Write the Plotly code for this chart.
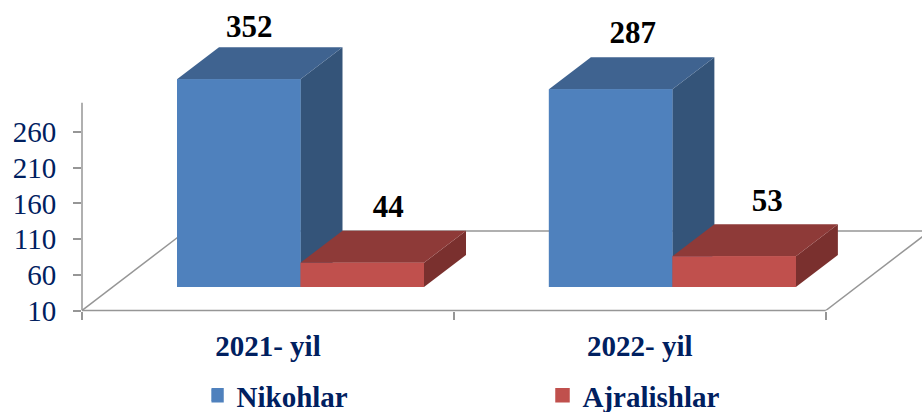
import plotly.graph_objects as go

# ---- data ----
categories = ["2021- yil", "2022- yil"]
series_names = ["Nikohlar", "Ajralishlar"]
nikohlar = [352, 287]
ajralishlar = [44, 53]
y_ticks = [10, 60, 110, 160, 210, 260]

# ---- axis / projection settings ----
AXIS_MIN, AXIS_MAX = 10, 301      # value axis; tall bars are clipped at its max
PX_PER_CAT = 371.9
PX_PER_VAL = 0.714
# body margin is removed below; the figure is a little taller than the window so
# the legend may sit right at the window's bottom edge, as in the reference
LEFT_PX, BOTTOM_PX, W, H = 82, 310.5, 922, 430

def ux(px):
    return px / PX_PER_CAT

def uy(px):
    return px / PX_PER_VAL

BAR_W = ux(123.5)
GROUP_START = ux(95)
DEPTH_X, DEPTH_Y = ux(42), uy(32)
FLOOR = AXIS_MIN + uy(23.5)
WALL_X, WALL_Y = ux(104), AXIS_MIN + uy(79.5)
GREY = "#969696"
NAVY = "#002060"
STYLE = {
    "Nikohlar": dict(front="#4F81BD", top="#3F6390", side="#345479"),
    "Ajralishlar": dict(front="#C0504D", top="#8E3A38", side="#7A302E"),
}
LABEL_DX = {"Nikohlar": [ux(10.5), ux(22)], "Ajralishlar": [ux(26), ux(33)]}
LABEL_DY = {"Nikohlar": [uy(18), uy(21.5)], "Ajralishlar": [uy(21.5), uy(21.5)]}
EDGE = 2.5  # outline of the bars (sets the legend swatch size), kept inside the face

fig = go.Figure()

series = [nikohlar, ajralishlar]
for s, (name, values) in enumerate(zip(series_names, series)):
    st = STYLE[name]
    xs = [c + GROUP_START + s * BAR_W for c in range(len(categories))]
    tops = [FLOOR + (min(v, AXIS_MAX) - AXIS_MIN) for v in values]
    # front faces as bars
    fig.add_trace(go.Bar(
        x=[x + BAR_W / 2 for x in xs], y=[t - FLOOR - uy(EDGE) for t in tops], base=FLOOR + uy(EDGE / 2),
        width=BAR_W - ux(EDGE), name=name,
        marker=dict(color=st["front"], line=dict(width=EDGE, color=st["front"])),
        hoverinfo="skip", showlegend=True,
    ))
    for x, t in zip(xs, tops):
        # side face
        fig.add_trace(go.Scatter(
            x=[x + BAR_W, x + BAR_W + DEPTH_X, x + BAR_W + DEPTH_X, x + BAR_W, x + BAR_W],
            y=[FLOOR, FLOOR + DEPTH_Y, t + DEPTH_Y, t, FLOOR],
            mode="lines", fill="toself", fillcolor=st["side"], line=dict(width=0),
            showlegend=False, hoverinfo="skip",
        ))
        # top face
        fig.add_trace(go.Scatter(
            x=[x, x + DEPTH_X, x + BAR_W + DEPTH_X, x + BAR_W, x],
            y=[t, t + DEPTH_Y, t + DEPTH_Y, t, t],
            mode="lines", fill="toself", fillcolor=st["top"], line=dict(width=0),
            showlegend=False, hoverinfo="skip",
        ))
        # front face again, above the neighbouring bar's side face
        fig.add_trace(go.Scatter(
            x=[x, x, x + BAR_W, x + BAR_W, x],
            y=[FLOOR, t, t, FLOOR, FLOOR],
            mode="lines", fill="toself", fillcolor=st["front"], line=dict(width=0),
            showlegend=False, hoverinfo="skip",
        ))

# data labels
for s, (name, values) in enumerate(zip(series_names, series)):
    fig.add_trace(go.Scatter(
        x=[c + GROUP_START + s * BAR_W + BAR_W / 2 + LABEL_DX[name][c] for c in range(len(categories))],
        y=[FLOOR + min(v, AXIS_MAX) - AXIS_MIN + DEPTH_Y + LABEL_DY[name][i] for i, v in enumerate(values)],
        mode="text", text=[str(v) for v in values], textposition="middle center",
        textfont=dict(family="Liberation Serif", size=31, color="#000000", weight="bold"),
        showlegend=False, hoverinfo="skip",
    ))

# floor, wall and axis lines
line = dict(color=GREY, width=1.5)
n = len(categories)
shapes = [
    dict(type="line", layer="below", xref="x", yref="y", x0=0, y0=AXIS_MIN, x1=WALL_X, y1=WALL_Y, line=line),
    dict(type="line", layer="below", xref="x", yref="y", x0=WALL_X, y0=WALL_Y, x1=n + WALL_X, y1=WALL_Y, line=line),
    dict(type="line", layer="below", xref="x", yref="y", x0=n, y0=AXIS_MIN, x1=n + WALL_X, y1=WALL_Y, line=line),
    dict(type="line", layer="below", xref="paper", yref="y", x0=LEFT_PX / W, y0=AXIS_MIN, x1=LEFT_PX / W, y1=AXIS_MAX, line=line),
    dict(type="line", layer="below", xref="x", yref="paper", x0=0, y0=1 - BOTTOM_PX / H, x1=n, y1=1 - BOTTOM_PX / H, line=line),
]

fig.update_layout(
    width=W, height=H, margin=dict(l=0, r=0, t=0, b=0, autoexpand=False),
    paper_bgcolor="white", plot_bgcolor="rgba(0,0,0,0)",
    barmode="overlay", shapes=shapes,
    xaxis=dict(
        domain=[LEFT_PX / W, 1], range=[0, (W - LEFT_PX) / PX_PER_CAT],
        tickmode="array", tickvals=[c + 0.5 for c in range(n)], ticktext=categories,
        ticks="", showgrid=False, zeroline=False, showline=False,
        tickfont=dict(family="Liberation Serif", size=29, color=NAVY, weight="bold"),
        ticklabelstandoff=15,
        minor=dict(tickmode="array", tickvals=list(range(n + 1)), ticks="outside", ticklen=8, tickwidth=1.5, tickcolor=GREY, showgrid=False),
    ),
    yaxis=dict(
        domain=[1 - BOTTOM_PX / H, 1], range=[AXIS_MIN, AXIS_MIN + uy(BOTTOM_PX)],
        tickmode="array", tickvals=y_ticks, ticktext=[str(v) for v in y_ticks],
        ticks="outside", ticklen=8, tickwidth=1.5, tickcolor=GREY,
        showgrid=False, zeroline=False, showline=False,
        tickfont=dict(family="Liberation Serif", size=29, color=NAVY),
        ticklabelstandoff=11,
    ),
    legend=dict(
        orientation="h", x=211.5 / W, xanchor="left", y=1 - 395.5 / H, yanchor="middle",
        entrywidthmode="pixels", entrywidth=316, indentation=-15, itemwidth=30,
        font=dict(family="Liberation Serif", size=29, color=NAVY, weight="bold"),
        bgcolor="rgba(0,0,0,0)", traceorder="normal",
    ),
)

fig.write_html(
    "out.html",
    config={"displayModeBar": False},
    post_script="document.body.style.margin='0';document.documentElement.style.overflow='hidden';",
)
